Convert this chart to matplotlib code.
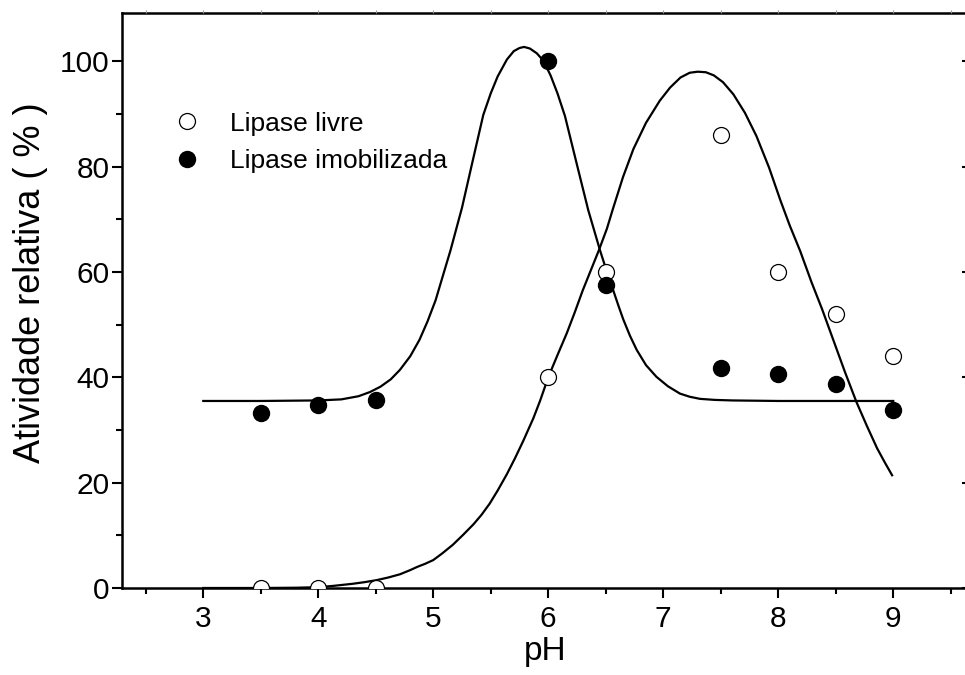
import matplotlib
matplotlib.use("Agg")
import matplotlib.pyplot as plt

plt.rcParams['font.family'] = ['Liberation Sans', 'DejaVu Sans']

# pontos experimentais
ph = [3.5, 4.0, 4.5, 6.0, 6.5, 7.5, 8.0, 8.5, 9.0]
livre = [0, 0, 0, 40, 60, 86, 60, 52, 44]
imobilizada = [33.2, 34.7, 35.7, 100, 57.5, 41.7, 40.6, 38.7, 33.8]

# curvas ajustadas
curva_livre_x = [3.0, 3.5, 3.8, 4.0, 4.13, 4.3, 4.4, 4.51, 4.61, 4.71, 4.80, 4.86,
                 4.93, 5.0, 5.08, 5.17, 5.26, 5.35, 5.42, 5.49, 5.56, 5.64, 5.71,
                 5.78, 5.87, 5.93, 6.0, 6.08, 6.16, 6.23, 6.30, 6.37, 6.44, 6.51,
                 6.56, 6.65, 6.74, 6.85, 6.97, 7.06, 7.15, 7.23, 7.30, 7.37, 7.44,
                 7.52, 7.61, 7.71, 7.81, 7.92, 8.02, 8.10, 8.19, 8.29, 8.38, 8.48,
                 8.58, 8.68, 8.77, 8.86, 8.93, 8.99]
curva_livre_y = [0, 0, 0.05, 0.15, 0.4, 0.8, 1.1, 1.5, 2.0, 2.6, 3.4, 4.0,
                 4.6, 5.3, 6.6, 8.2, 10.1, 12.1, 13.9, 16.0, 18.5, 21.6, 24.6,
                 27.8, 32.2, 35.6, 40.0, 44.2, 48.3, 52.3, 56.5, 60.3, 64.1, 68.2,
                 71.8, 78.0, 83.3, 88.3, 92.5, 95.0, 96.9, 97.8, 98.0, 97.9, 97.3,
                 96.0, 93.7, 90.2, 85.8, 79.8, 73.5, 68.8, 64.0, 58.0, 53.0, 47.0,
                 41.0, 35.3, 30.8, 26.5, 23.7, 21.4]

curva_imob_x = [3.0, 3.5, 4.0, 4.2, 4.35, 4.45, 4.54, 4.63, 4.71, 4.80, 4.88, 4.95,
                5.02, 5.08, 5.15, 5.25, 5.34, 5.435, 5.50, 5.56, 5.64, 5.70, 5.75,
                5.79, 5.84, 5.90, 5.957, 6.02, 6.08, 6.145, 6.25, 6.348, 6.45, 6.51,
                6.565, 6.61, 6.652, 6.71, 6.769, 6.85, 6.94, 7.04, 7.145, 7.23, 7.32,
                7.45, 7.6, 8.0, 9.0]
curva_imob_y = [35.5, 35.5, 35.6, 35.8, 36.4, 37.2, 38.2, 39.6, 41.4, 44.0, 47.1, 50.6,
                54.6, 59.0, 64.1, 72.2, 80.8, 89.8, 93.9, 97.1, 100.3, 101.9, 102.5,
                102.7, 102.4, 101.5, 100.1, 97.3, 93.9, 89.6, 80.3, 71.7, 64.1, 60.0,
                56.5, 53.6, 51.0, 47.9, 45.2, 42.3, 40.1, 38.3, 36.9, 36.3, 35.9,
                35.7, 35.6, 35.5, 35.5]

fig = plt.figure(figsize=(9.65, 6.75), dpi=100)
ax = fig.add_axes([0.1264, 0.1289, 0.8767, 0.8523])

ax.plot(curva_imob_x, curva_imob_y, color='black', lw=1.6)
ax.plot(curva_livre_x, curva_livre_y, color='black', lw=1.6)
ax.plot(ph, livre, 'o', ms=11.5, mfc='white', mec='black', mew=0.9,
        label='Lipase livre', zorder=3)
ax.plot(ph, imobilizada, 'o', ms=11.5, mfc='black', mec='black',
        label='Lipase imobilizada', zorder=3)

ax.set_xlim(2.293, 9.65)
ax.set_ylim(0, 109.2)
ax.set_xticks([3, 4, 5, 6, 7, 8, 9])
ax.set_xticks([2.5, 3.5, 4.5, 5.5, 6.5, 7.5, 8.5, 9.5], minor=True)
ax.set_yticks([0, 20, 40, 60, 80, 100])
ax.set_yticks([10, 30, 50, 70, 90], minor=True)

for s in ['left', 'bottom', 'top']:
    ax.spines[s].set_linewidth(1.8)
ax.spines['right'].set_visible(False)

ax.tick_params(axis='both', which='major', direction='out', length=7.5, width=1.5,
               labelsize=21.5)
ax.tick_params(axis='both', which='minor', direction='out', length=4, width=1.5)
ax.tick_params(axis='x', which='major', pad=5)
ax.tick_params(axis='y', which='major', pad=1.5)

# ticks do lado direito (para dentro) e de cima (curtos, claros)
axr = ax.twinx()
axr.set_ylim(ax.get_ylim())
axr.set_yticks([0, 20, 40, 60, 80, 100])
axr.tick_params(axis='y', direction='in', length=4, width=1.5, labelright=False)
for s in axr.spines.values():
    s.set_visible(False)

axt = ax.twiny()
axt.set_xlim(ax.get_xlim())
axt.set_xticks([2.5, 3, 3.5, 4, 4.5, 5, 5.5, 6, 6.5, 7, 7.5, 8, 8.5, 9, 9.5])
axt.tick_params(axis='x', direction='out', length=2, width=0.8, color='0.6',
                labeltop=False)
for s in axt.spines.values():
    s.set_visible(False)

ax.set_xlabel('pH', fontsize=24, labelpad=2)
ax.set_ylabel('Atividade relativa ( % )', fontsize=26)
ax.yaxis.set_label_coords(-0.088, 0.53)

ax.legend(loc='upper left', bbox_to_anchor=(0.0615, 0.828), frameon=False,
          fontsize=19, handlelength=1.0, handletextpad=1.12, labelspacing=0.52,
          borderaxespad=0, borderpad=0)

fig.savefig('out.png', dpi=100)
